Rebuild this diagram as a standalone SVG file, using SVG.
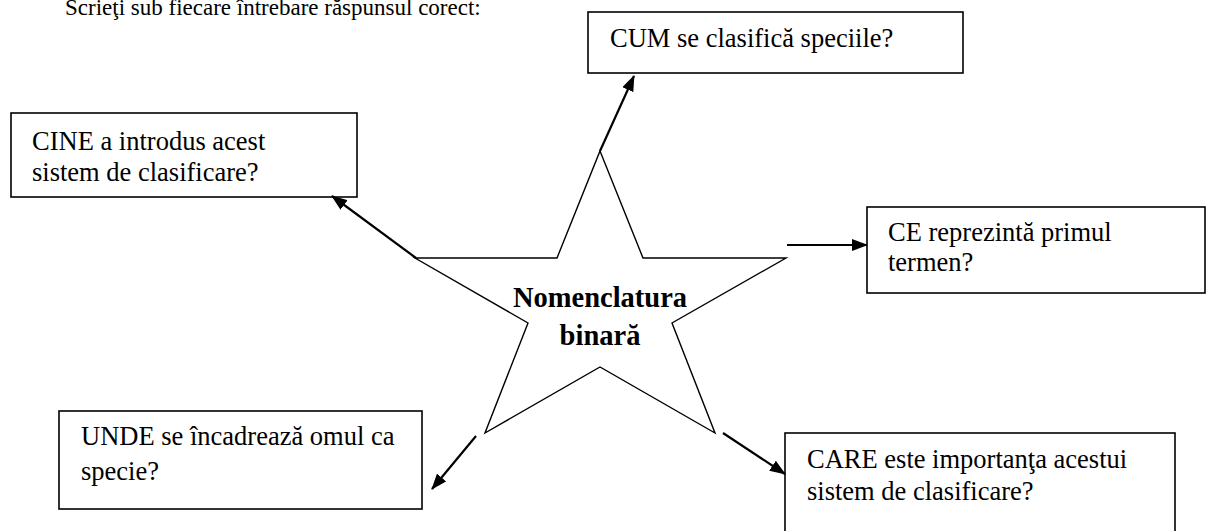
<svg xmlns="http://www.w3.org/2000/svg" width="1206" height="531" viewBox="0 0 1206 531">
<style>
.bg{fill:#ffffff}
.box{fill:#ffffff;stroke:#000000;stroke-width:1.6}
.t{font-size:26.5px;fill:#000000}
.title{font-size:23px;fill:#000000}
.b{font-size:28.5px;font-weight:bold;fill:#000000;text-anchor:middle}
.star{fill:#ffffff;stroke:#000000;stroke-width:1.4;stroke-linejoin:miter}
.arr{fill:none;stroke:#000000;stroke-width:2.2;marker-end:url(#ah)}
</style>
<defs>
<marker id="ah" viewBox="0 0 16 12" refX="15" refY="6" markerWidth="16" markerHeight="12" markerUnits="userSpaceOnUse" orient="auto">
<path d="M0,0 L16,6 L0,12 Z" fill="#000000"/>
</marker>
</defs>
<rect class="bg" x="0" y="0" width="1206" height="531"/>
<g font-family="Liberation Serif, DejaVu Serif, serif">
<text class="title" x="65" y="15">Scrieţi sub fiecare întrebare răspunsul corect:</text>
<g id="star">
<polygon class="star" points="600,151 643,258 786,258 672,323 715,433 600,367 485,433 528,323 415,258 557,258"/>
<text class="b" x="600" y="307">Nomenclatura</text>
<text class="b" x="600" y="345">binară</text>
</g>
<g id="cum">
<rect class="box" x="588" y="12" width="375" height="61"/>
<text class="t" x="610" y="47">CUM se clasifică speciile?</text>
</g>
<g id="cine">
<rect class="box" x="11" y="113" width="346" height="84"/>
<text class="t" x="32" y="150">CINE a introdus acest</text>
<text class="t" x="32" y="181">sistem de clasificare?</text>
</g>
<g id="ce">
<rect class="box" x="867" y="207" width="338" height="86"/>
<text class="t" x="888" y="241">CE reprezintă primul</text>
<text class="t" x="888" y="271">termen?</text>
</g>
<g id="unde">
<rect class="box" x="59" y="411" width="363" height="98"/>
<text class="t" x="81" y="445">UNDE se încadrează omul ca</text>
<text class="t" x="81" y="480">specie?</text>
</g>
<g id="care">
<rect class="box" x="785" y="433" width="390" height="110"/>
<text class="t" x="807" y="468">CARE este importanţa acestui</text>
<text class="t" x="807" y="500">sistem de clasificare?</text>
</g>
</g>
<g id="connectors">
<line class="arr" x1="600" y1="151" x2="634" y2="76"/>
<line class="arr" x1="416" y1="258" x2="332" y2="196"/>
<line class="arr" x1="787" y1="245" x2="867" y2="245"/>
<line class="arr" x1="476" y1="436" x2="432" y2="489"/>
<line class="arr" x1="723" y1="433" x2="785" y2="474"/>
</g>
</svg>
